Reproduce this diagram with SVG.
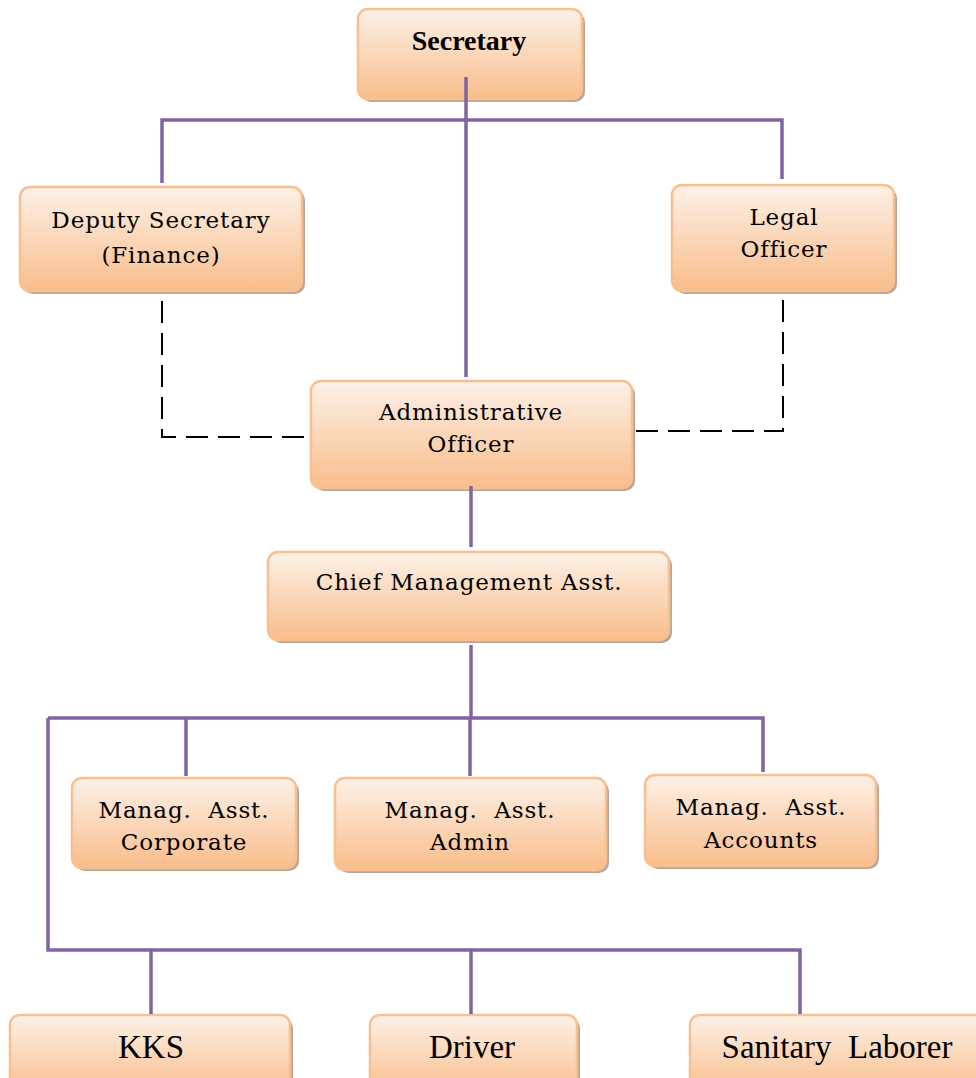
<svg xmlns="http://www.w3.org/2000/svg" width="976" height="1078" viewBox="0 0 976 1078">
<defs>
<linearGradient id="g" x1="0" y1="0" x2="0" y2="1">
<stop offset="0" stop-color="#fdf1e8"/>
<stop offset="0.5" stop-color="#fbd7b9"/>
<stop offset="1" stop-color="#f9bd8b"/>
</linearGradient>
<style>
.sh{fill:#b8a79a;}
.bx{fill:url(#g);stroke:#f8bf8f;stroke-width:2.5;}
.t{font-family:"DejaVu Serif","Liberation Serif",serif;font-size:23px;letter-spacing:0.9px;fill:#000;text-anchor:middle;}
.tb{font-family:"Liberation Serif","DejaVu Serif",serif;font-size:28px;font-weight:bold;fill:#000;text-anchor:middle;}
.tc{font-family:"Liberation Serif",serif;font-size:33px;fill:#000;text-anchor:middle;}
.p{stroke:#8064a2;stroke-width:3.5;fill:none;}
.d{stroke:#000;stroke-width:2;fill:none;stroke-dasharray:22 10;}
</style>
</defs>
<g id="node-secretary">
<rect class="sh" x="361" y="12" width="224" height="90" rx="10"/>
<rect class="bx" x="358" y="9" width="224" height="90" rx="10"/>
<text class="tb" x="469" y="50">Secretary</text>
</g>
<g id="node-deputy">
<rect class="sh" x="23" y="190" width="282" height="104" rx="10"/>
<rect class="bx" x="20" y="187" width="282" height="104" rx="10"/>
<text class="t" x="161" y="228">Deputy Secretary</text>
<text class="t" x="161" y="263">(Finance)</text>
</g>
<g id="node-legal">
<rect class="sh" x="675" y="188" width="222" height="106" rx="10"/>
<rect class="bx" x="672" y="185" width="222" height="106" rx="10"/>
<text class="t" x="784" y="225">Legal</text>
<text class="t" x="784" y="257">Officer</text>
</g>
<g id="node-admin">
<rect class="sh" x="314" y="384" width="321" height="107" rx="10"/>
<rect class="bx" x="311" y="381" width="321" height="107" rx="10"/>
<text class="t" x="471" y="420">Administrative</text>
<text class="t" x="471" y="452">Officer</text>
</g>
<g id="node-chief">
<rect class="sh" x="271" y="555" width="401" height="88" rx="10"/>
<rect class="bx" x="268" y="552" width="401" height="88" rx="10"/>
<text class="t" x="469" y="590">Chief Management Asst.</text>
</g>
<g id="node-corporate">
<rect class="sh" x="75" y="781" width="224" height="90" rx="10"/>
<rect class="bx" x="72" y="778" width="224" height="90" rx="10"/>
<text class="t" x="184" y="818" xml:space="preserve">Manag.  Asst.</text>
<text class="t" x="184" y="850">Corporate</text>
</g>
<g id="node-madmin">
<rect class="sh" x="338" y="781" width="271" height="92" rx="10"/>
<rect class="bx" x="335" y="778" width="271" height="92" rx="10"/>
<text class="t" x="470" y="818" xml:space="preserve">Manag.  Asst.</text>
<text class="t" x="470" y="850">Admin</text>
</g>
<g id="node-accounts">
<rect class="sh" x="648" y="778" width="231" height="91" rx="10"/>
<rect class="bx" x="645" y="775" width="231" height="91" rx="10"/>
<text class="t" x="761" y="815" xml:space="preserve">Manag.  Asst.</text>
<text class="t" x="761" y="848">Accounts</text>
</g>
<g id="node-kks">
<rect class="sh" x="13" y="1018" width="280" height="80" rx="10"/>
<rect class="bx" x="10" y="1015" width="280" height="80" rx="10"/>
<text class="tc" x="151" y="1058">KKS</text>
</g>
<g id="node-driver">
<rect class="sh" x="373" y="1018" width="207" height="80" rx="10"/>
<rect class="bx" x="370" y="1015" width="207" height="80" rx="10"/>
<text class="tc" x="472" y="1058">Driver</text>
</g>
<g id="node-sanitary">
<rect class="sh" x="693" y="1018" width="300" height="80" rx="10"/>
<rect class="bx" x="690" y="1015" width="300" height="80" rx="10"/>
<text class="tc" x="837" y="1058" xml:space="preserve">Sanitary  Laborer</text>
</g>
<g id="connectors">
<path class="p" d="M466 77 V377"/>
<path class="p" d="M162 183 V120 H782 V179"/>
<path class="d" d="M304 437 H162 V292"/>
<path class="d" d="M636 431 H783 V292"/>
<path class="p" d="M471 486 V547"/>
<path class="p" d="M471 645 V718"/>
<path class="p" d="M48 718 H763 V772"/>
<path class="p" d="M186 718 V776"/>
<path class="p" d="M470 718 V776"/>
<path class="p" d="M48 718 V950 H800 V1014"/>
<path class="p" d="M151 950 V1014"/>
<path class="p" d="M471 950 V1014"/>
</g>
</svg>
